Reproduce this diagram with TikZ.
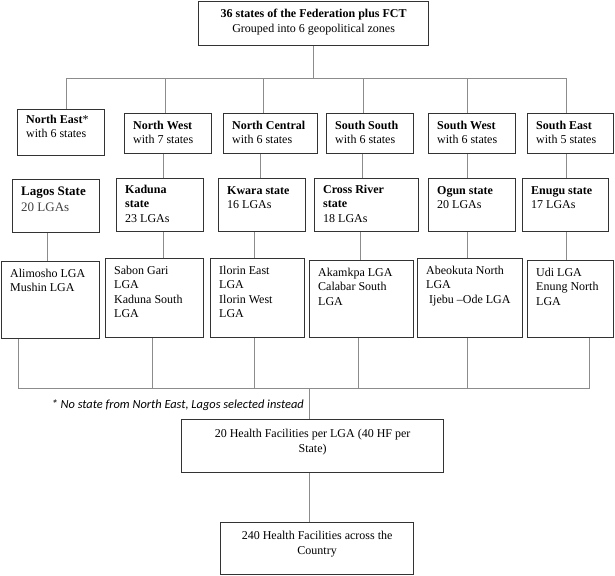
\documentclass[tikz,border=0pt]{standalone}
\usepackage{fontspec}
\setmainfont{Liberation Serif}
\newfontfamily\notefont{Carlito}
\usetikzlibrary{positioning}
\tikzstyle{box}=[draw=black!80,line width=1.2pt,anchor=north west,inner sep=0pt]
\tikzstyle{txt}=[anchor=north west,align=left,inner xsep=9pt,inner ysep=8pt,font=\fontsize{12}{14.3}\selectfont]
\tikzstyle{ctxt}=[anchor=north,align=center,inner xsep=0pt,inner ysep=9pt,font=\fontsize{12}{14.8}\selectfont]
\tikzstyle{conn}=[draw=black!45,line width=0.9pt]

\begin{document}
\begin{tikzpicture}[x=1pt,y=-1pt]
\useasboundingbox (0,0) rectangle (615,575);
% country
\node[box,minimum width=230pt,minimum height=44pt] (top) at (198,1) {};
\node[ctxt,inner ysep=8pt] (top-t) at (top.north) {\textbf{36 states of the Federation plus FCT}\\Grouped into 6 geopolitical zones};
% zones
\node[box,minimum width=87pt,minimum height=46pt] (ne) at (17,109) {};
\node[box,minimum width=87pt,minimum height=40pt] (nw) at (124,113) {};
\node[box,minimum width=94pt,minimum height=40pt] (nc) at (223,113) {};
\node[box,minimum width=87pt,minimum height=40pt] (ss) at (326,113) {};
\node[box,minimum width=87pt,minimum height=40pt] (sw) at (428,113) {};
\node[box,minimum width=86pt,minimum height=40pt] (se) at (527,113) {};
\node[txt,inner ysep=6pt] (ne-t) at (ne.north west) {\textbf{North East}*\\with 6 states};
\node[txt] (nw-t) at (nw.north west) {\textbf{North West}\\with 7 states};
\node[txt] (nc-t) at (nc.north west) {\textbf{North Central}\\with 6 states};
\node[txt] (ss-t) at (ss.north west) {\textbf{South South}\\with 6 states};
\node[txt] (sw-t) at (sw.north west) {\textbf{South West}\\with 6 states};
\node[txt] (se-t) at (se.north west) {\textbf{South East}\\with 5 states};
% states
\node[box,minimum width=87pt,minimum height=53pt] (lag) at (12,179) {};
\node[box,minimum width=87pt,minimum height=53pt] (kad) at (116,178) {};
\node[box,minimum width=87pt,minimum height=53pt] (kwa) at (218,178) {};
\node[box,minimum width=104pt,minimum height=53pt] (cro) at (314,178) {};
\node[box,minimum width=87pt,minimum height=53pt] (ogu) at (428,178) {};
\node[box,minimum width=86pt,minimum height=53pt] (enu) at (522,178) {};
\node[txt,font=\fontsize{13}{15.5}\selectfont] (lag-t) at (lag.north west) {\textbf{Lagos State}\\\textcolor{black!75}{20 LGAs}};
\node[txt,inner ysep=7pt] (kad-t) at (kad.north west) {\textbf{Kaduna}\\\textbf{state}\\23 LGAs};
\node[txt] (kwa-t) at (kwa.north west) {\textbf{Kwara state}\\16 LGAs};
\node[txt,inner ysep=7pt] (cro-t) at (cro.north west) {\textbf{Cross River}\\\textbf{state}\\18 LGAs};
\node[txt] (ogu-t) at (ogu.north west) {\textbf{Ogun state}\\20 LGAs};
\node[txt] (enu-t) at (enu.north west) {\textbf{Enugu state}\\17 LGAs};
% LGAs
\node[box,minimum width=98pt,minimum height=77pt] (ali) at (1,261) {};
\node[box,minimum width=98pt,minimum height=79pt] (sab) at (105,258) {};
\node[box,minimum width=94pt,minimum height=79pt] (ilo) at (210,258) {};
\node[box,minimum width=104pt,minimum height=77pt] (aka) at (309,260) {};
\node[box,minimum width=105pt,minimum height=79pt] (abe) at (417,258) {};
\node[box,minimum width=86pt,minimum height=77pt] (udi) at (527,260) {};
\node[txt] (ali-t) at (ali.north west) {Alimosho LGA\\Mushin LGA};
\node[txt] (sab-t) at (sab.north west) {Sabon Gari\\LGA\\Kaduna South\\LGA};
\node[txt] (ilo-t) at (ilo.north west) {Ilorin East\\LGA\\Ilorin West\\LGA};
\node[txt] (aka-t) at (aka.north west) {Akamkpa LGA\\Calabar South\\LGA};
\node[txt] (abe-t) at (abe.north west) {Abeokuta North\\LGA\\\hspace*{3pt}Ijebu –Ode LGA};
\node[txt] (udi-t) at (udi.north west) {Udi LGA\\Enung North\\LGA};
% facilities
\node[anchor=east,inner sep=0pt,font=\notefont\itshape\fontsize{12.4}{14}\selectfont] (note) at (304,405) {* No state from North East, Lagos selected instead};
\node[box,minimum width=262pt,minimum height=53pt] (hf) at (181,419) {};
\node[box,minimum width=193pt,minimum height=52pt] (tot) at (220,522) {};
\node[ctxt,inner ysep=10pt] (hf-t) at (hf.north) {20 Health Facilities per LGA (40 HF per\\State)};
\node[ctxt] (tot-t) at (tot.north) {240 Health Facilities across the\\Country};
% country to zones
\draw[conn] (top.south) -- (top.south |- 0,78);
\draw[conn] (ne.north -| 66,0) -- (66,78) -| (se.north -| 566,0);
\draw[conn] (nw.north -| 165,0) -- (165,78);
\draw[conn] (nc.north -| 263,0) -- (263,78);
\draw[conn] (ss.north -| 363,0) -- (363,78);
\draw[conn] (sw.north -| 467,0) -- (467,78);
% zones to states
\draw[conn] (nw.south -| 163,0) -- (kad.north -| 163,0);
\draw[conn] (nc.south -| 260,0) -- (kwa.north -| 260,0);
\draw[conn] (ss.south -| 362,0) -- (cro.north -| 362,0);
\draw[conn] (sw.south -| 467,0) -- (ogu.north -| 467,0);
\draw[conn] (se.south -| 566,0) -- (enu.north -| 566,0);
% states to LGAs
\draw[conn] (lag.south -| 47,0) -- (ali.north -| 47,0);
\draw[conn] (kad.south -| 163,0) -- (sab.north -| 163,0);
\draw[conn] (kwa.south -| 254,0) -- (ilo.north -| 254,0);
\draw[conn] (cro.south -| 360,0) -- (aka.north -| 360,0);
\draw[conn] (ogu.south -| 467,0) -- (abe.north -| 467,0);
\draw[conn] (enu.south -| 566,0) -- (udi.north -| 566,0);
% LGAs to facilities
\draw[conn] (ali.south -| 18,0) -- (18,388) -| (udi.south -| 589,0);
\draw[conn] (sab.south -| 152,0) -- (152,388);
\draw[conn] (ilo.south -| 254,0) -- (254,388);
\draw[conn] (aka.south -| 358,0) -- (358,388);
\draw[conn] (abe.south -| 467,0) -- (467,388);
\draw[conn] (309,388) -- (hf.north -| 309,0);
\draw[conn] (hf.south -| 309,0) -- (tot.north -| 309,0);
\end{tikzpicture}
\end{document}
